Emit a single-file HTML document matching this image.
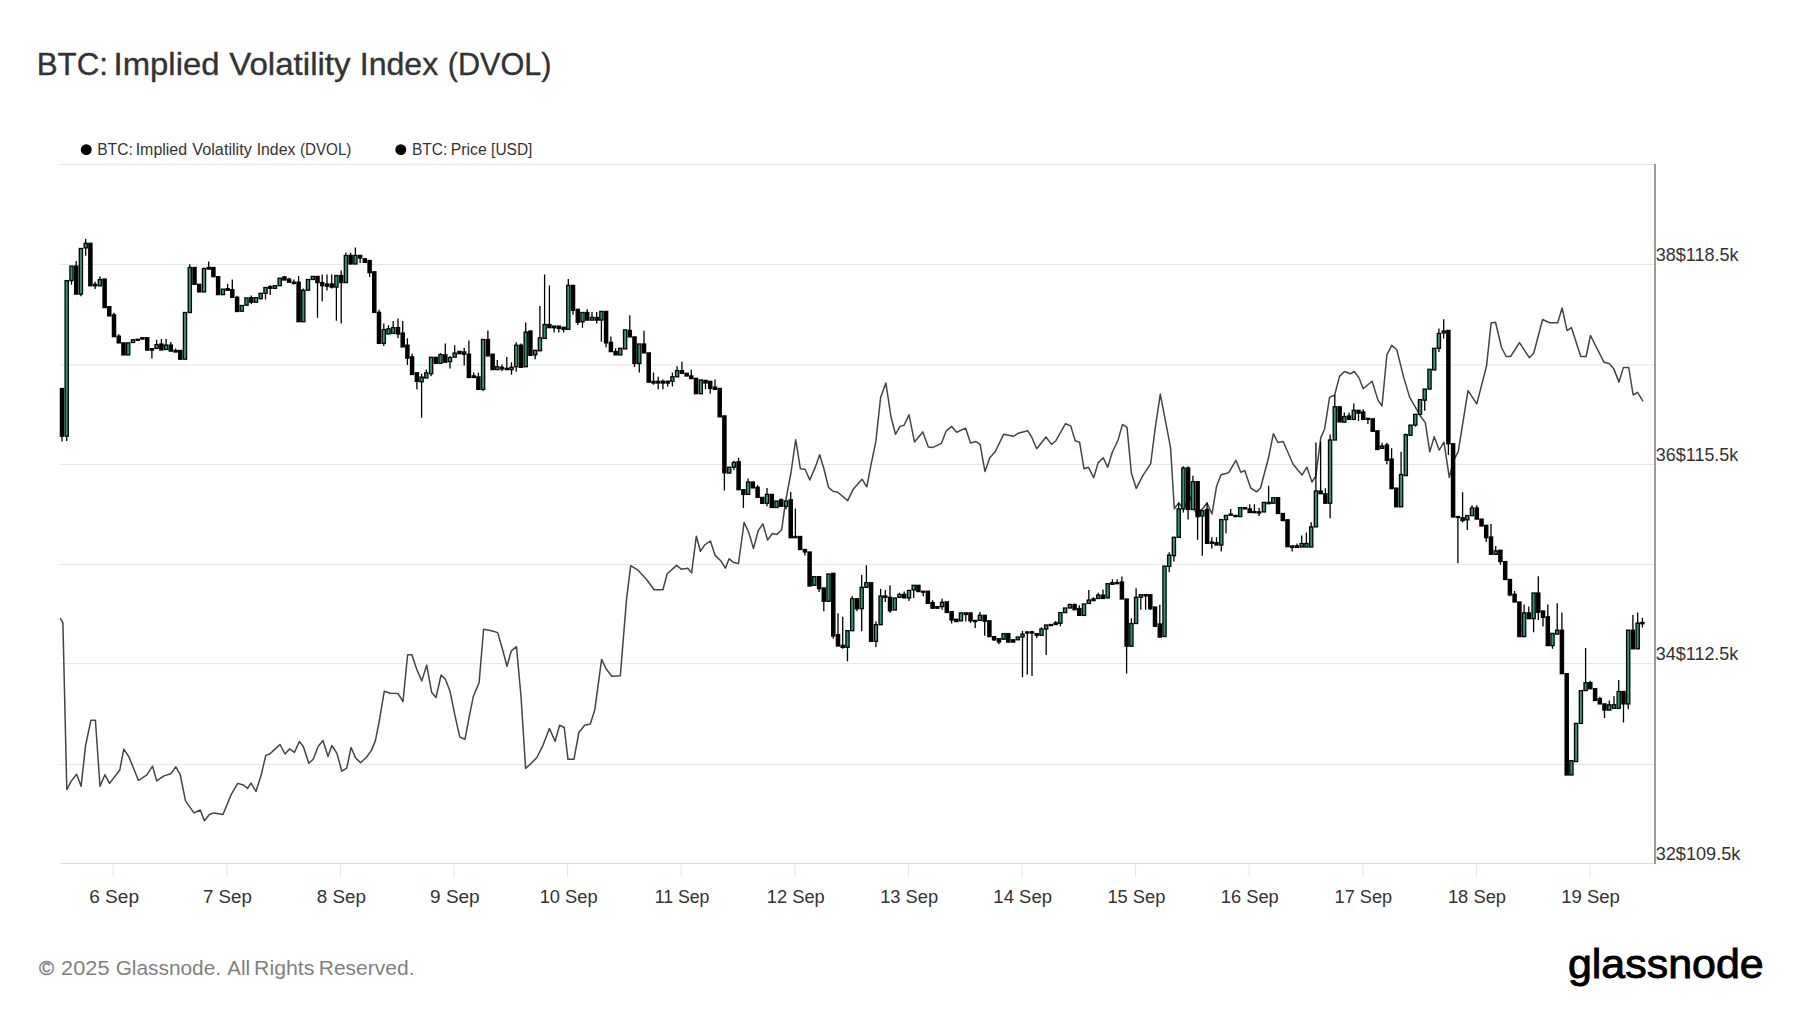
<!DOCTYPE html>
<html><head><meta charset="utf-8"><title>BTC: Implied Volatility Index (DVOL)</title>
<style>html,body{margin:0;padding:0;background:#fff;width:1800px;height:1013px;overflow:hidden}svg{display:block}</style>
</head><body>
<svg width="1800" height="1013" viewBox="0 0 1800 1013">
<rect width="1800" height="1013" fill="#fff"/>
<g stroke="#e6e6e6" stroke-width="1"><line x1="60" y1="164.5" x2="1655" y2="164.5"/><line x1="60" y1="264.5" x2="1655" y2="264.5"/><line x1="60" y1="365" x2="1655" y2="365"/><line x1="60" y1="464.5" x2="1655" y2="464.5"/><line x1="60" y1="564.5" x2="1655" y2="564.5"/><line x1="60" y1="663.6" x2="1655" y2="663.6"/><line x1="60" y1="764.5" x2="1655" y2="764.5"/></g>
<line x1="60" y1="863.4" x2="1655" y2="863.4" stroke="#dcdcdc" stroke-width="1"/>
<g stroke="#e4e4e4" stroke-width="1"><line x1="113.2" y1="864" x2="113.2" y2="877.5"/><line x1="226.8" y1="864" x2="226.8" y2="877.5"/><line x1="340.4" y1="864" x2="340.4" y2="877.5"/><line x1="454" y1="864" x2="454" y2="877.5"/><line x1="567.6" y1="864" x2="567.6" y2="877.5"/><line x1="681.2" y1="864" x2="681.2" y2="877.5"/><line x1="794.8" y1="864" x2="794.8" y2="877.5"/><line x1="908.4" y1="864" x2="908.4" y2="877.5"/><line x1="1022" y1="864" x2="1022" y2="877.5"/><line x1="1135.6" y1="864" x2="1135.6" y2="877.5"/><line x1="1249.2" y1="864" x2="1249.2" y2="877.5"/><line x1="1362.8" y1="864" x2="1362.8" y2="877.5"/><line x1="1476.4" y1="864" x2="1476.4" y2="877.5"/><line x1="1590" y1="864" x2="1590" y2="877.5"/></g>
<line x1="1655" y1="164" x2="1655" y2="864" stroke="#7a7a7a" stroke-width="1.5"/>
<path d="M60 618.2 L62.9 622.7 L66.8 789.6 L70.9 781.6 L76.6 774.3 L81.1 786.2 L85.6 745.3 L90.9 720.3 L95.4 720.3 L100 786.2 L104.9 774.8 L109.5 783.4 L119.7 770.3 L123.8 749.1 L128.8 756.6 L138.5 780.5 L146.9 774.8 L152.6 766.2 L156.7 780.9 L164 775.9 L170.8 773.7 L175.8 766.9 L180.3 774.8 L185.5 800.9 L193.9 812.9 L200.3 810 L204.4 820.7 L209.4 814.5 L213.9 812.9 L223 814.5 L230.9 795.2 L237.7 783.4 L243.4 785 L247.5 788.4 L251 783 L255.9 791.5 L260.9 776.1 L265.8 755.4 L269.7 754 L274.7 749.4 L280 744.5 L285.1 754 L289.5 748.9 L294.4 752.4 L299.4 741.5 L303.3 746.5 L308.8 763.3 L313.2 759.3 L318.1 746.5 L323 740.6 L328 756.4 L331.9 745.5 L336.9 753.4 L341.8 771.2 L346.7 768.2 L351.1 747.5 L355.6 757.9 L360.6 762.7 L366.5 757.3 L371.4 750.4 L375.4 740.6 L379.3 720.8 L384.3 691.2 L390.2 693.2 L398.1 693.6 L403 701.5 L407.6 654.7 L411.9 654.7 L416.8 669.5 L421.8 680.9 L426.7 665.1 L431.6 692.2 L436 697.5 L441.1 675 L445.5 679.4 L450 691.2 L455.2 716.6 L459.8 737.1 L465 739.3 L468.8 718.9 L473.4 696.2 L479.1 682.6 L483.6 629.2 L491.5 630.8 L497.7 632.6 L502.9 650.8 L507 666.2 L511.3 650.8 L516.5 646.7 L521 696.2 L525.6 768.4 L531.3 763.2 L536.9 757.5 L542.6 746.2 L549.4 728.4 L555.1 741.2 L559.6 725.3 L564.2 727.5 L568 759.3 L573.9 759.3 L578.9 732.5 L584.6 725.3 L590.3 723.9 L594.8 709.8 L601.6 659.4 L606.2 669 L611.9 676.2 L620.3 675.8 L626.6 598.6 L630.7 565.7 L638 570.2 L646.6 579.5 L654.1 589.8 L662.9 589.8 L667.2 573.8 L676.6 565.4 L681.3 569.2 L687.8 568.2 L691.6 572.9 L696.3 536.3 L700.4 551.3 L704.7 544.8 L710.4 541 L715 555.1 L720.7 560.7 L725.4 568.2 L729.1 558.8 L733.8 562.6 L738.5 563.5 L744.1 522.3 L748.8 532.6 L753.5 548.5 L758.2 530.7 L762.9 523.8 L767.6 540.1 L772.3 533.5 L777 534.4 L781.7 529.8 L785.4 502.5 L791 472.5 L795.7 439.7 L800.4 468.8 L805.1 469.2 L809.8 480 L815.4 466.9 L819.7 454.7 L823.9 468.8 L828.6 487.5 L833.2 491.3 L837.8 492.3 L847.7 500.6 L853 489.6 L862 479.2 L866.8 486.8 L870.9 465.4 L875.8 441.9 L880.6 397.6 L885.9 383.1 L891 417 L895.5 434.3 L900 426.4 L904.1 425.3 L909 414.9 L914.5 441.9 L922.8 431.9 L928.3 447.1 L933.1 447.4 L941.4 443.3 L946.3 430.8 L951.8 426.4 L956.6 432.2 L965.6 428.1 L970.5 443 L976 441.6 L980.1 444.4 L985 471.6 L989.8 457.8 L995.3 451.5 L1003.6 434.3 L1013.3 436.3 L1018.1 433.3 L1027.8 430.8 L1031.3 436.3 L1036.7 448.8 L1046 437 L1051.5 444.4 L1055.9 440.7 L1065.5 423.7 L1070.7 425.9 L1075.2 440.7 L1079.6 442.2 L1084 468.8 L1088.5 467.3 L1093.7 477.7 L1098.1 462.9 L1103.3 457.7 L1107.7 467.3 L1112.2 452.5 L1118.1 440 L1122.5 424.4 L1127 427.4 L1131.4 473.3 L1136.3 488.4 L1142.5 476.2 L1150.7 463.6 L1155.1 428.9 L1160.3 394.1 L1168.4 436.3 L1170.6 448.1 L1174.3 508.8 L1178.8 502.9 L1183.2 508.8 L1190 497 L1196 513 L1202.5 509 L1207 503 L1212 514 L1216.5 486.6 L1221 474.7 L1227 473.3 L1229 472.2 L1235.9 460.3 L1240.8 472.2 L1244.7 470.6 L1250.7 488 L1256.6 491.9 L1260.5 488 L1268.4 458.3 L1273.4 433.7 L1277.9 442.5 L1283.2 441.5 L1293.1 464.3 L1302 475.1 L1306.9 467.2 L1311.9 482 L1315.8 476.1 L1320.8 437.6 L1324.7 428.7 L1329.6 397.1 L1334.6 395.2 L1339.5 376.4 L1344.4 371.5 L1350.4 373.8 L1354.3 371.5 L1359.3 378.4 L1363.2 388.8 L1372.1 381.3 L1378 400.1 L1382 406 L1386.9 354.7 L1391.8 345.4 L1396.8 349.7 L1403.7 377.4 L1409.6 397.1 L1417.5 410.9 L1420 415.5 L1425.3 422.6 L1429.8 451.9 L1434.2 436.8 L1439.2 450.1 L1444 442.1 L1449.3 477.6 L1453.8 459.9 L1458.2 451.9 L1468 390.6 L1476.8 403.9 L1486.6 365.7 L1491.1 323.1 L1495.5 322.2 L1501.7 348 L1506.2 356.5 L1510.6 356.5 L1519.5 342.6 L1529.3 357.7 L1533.7 353.3 L1542.6 319.5 L1549.7 322.7 L1557.7 322.7 L1562.1 308 L1567.1 330.6 L1571.4 327.5 L1580.8 356.5 L1586.1 356.5 L1590.5 335.5 L1603.9 362.2 L1609.2 363.6 L1613.6 368.4 L1619 382.1 L1623.4 367.5 L1628.7 367.5 L1633.2 395 L1637.6 392.4 L1643 401.3" fill="none" stroke="#444" stroke-width="1.5" stroke-linejoin="round"/>
<path d="M62 388.5V441.4M66.7 280.6V441M71.5 266.1V284.8M76.2 260.9V294.1M80.9 248.5V296.2M85.7 238.7V255.7M90.4 243.3V285.8M95.1 281.7V288.9M99.9 276.5V285.8M104.6 279V307.6M109.3 306.6V315.9M114 312.8V336.7M118.8 334.2V342.9M123.5 342.9V354.9M128.2 342.9V354.9M133 339.8V342.5M137.7 339.3V340.3M142.4 337.7V339.1M147.2 337.7V350.1M151.9 348.7V358.4M156.6 339.7V348.4M161.4 339.1V350M166.1 339.1V349.5M170.8 341.9V351.1M175.6 348.4V352M180.3 350.5V359.2M185 312.5V359.2M189.8 264.2V312.5M194.5 267.5V284.3M199.2 284.3V291.9M204 267.5V291.9M208.7 261.5V269.1M213.4 267.5V276.7M218.1 276.7V294.6M222.9 289.2V294.6M227.6 283.8V290.3M232.3 279.4V297.3M237.1 295.7V311.5M241.8 305.5V311.2M246.5 297.9V305.2M251.3 295.5V303.9M256 297.7V302.2M260.7 293.3V299.5M265.5 287.5V299.5M270.2 285.3V295.1M274.9 285.7V288.4M279.7 278.2V285.7M284.4 276V280M289.1 277.7V282.2M293.9 279.5V284.4M298.6 276V321.7M303.3 288.4V321.7M308 279.5V290.2M312.8 276.4V279.5M317.5 276.4V317.7M322.2 274.6V301.3M327 274.6V290.6M331.7 274.6V288.4M336.4 275.5V320.8M341.2 270.6V323.5M345.9 252.4V282.6M350.6 252.8V264M355.4 247.6V264M360.1 255.4V263.1M364.8 258.8V262.3M369.6 260.5V277M374.3 271.8V312.4M379 309.8V343.4M383.8 323.6V346M388.5 325.3V334M393.2 321V333.4M398 318.4V338.3M402.7 321V346.9M407.4 338.3V365M412.1 353.8V374.5M416.9 372.8V389.2M421.6 373.7V417.7M426.3 369.4V378M431.1 357.3V376.3M435.8 357.3V363.3M440.5 353V363.3M445.3 343.5V362.2M450 355.9V368.4M454.7 345.2V357.1M459.5 351.4V353.7M464.2 348V365.6M468.9 340.6V377.5M473.7 372.4V377.5M478.4 372.4V389.4M483.1 339.5V391.1M487.9 330.4V355.9M492.6 354.2V369.6M497.3 359.9V369.6M502 364.5V371.3M506.8 357.1V369.6M511.5 362.2V374.7M516.2 342.3V371.8M521 343.5V367.3M525.7 322.5V366.7M530.4 331V355.4M535.2 350.3V359.3M539.9 306V350.8M544.6 274.5V338.4M549.4 285.4V327.7M554.1 326.1V332.6M558.8 326.1V332.6M563.6 327.2V332.6M568.3 278.9V329.3M573 285.4V314.7M577.8 309.3V325M582.5 312.5V327.7M587.2 309.3V320.1M592 312V320.1M596.7 312V323.4M601.4 311.4V341.8M606.1 311.4V347.3M610.9 336.4V351.6M615.6 348.3V354.9M620.3 348.3V354.9M625.1 329.9V348.9M629.8 315.2V336.9M634.5 336.9V367M639.3 344V372.4M644 330.7V352.9M648.7 352.9V382.2M653.5 372.4V384.8M658.2 376.8V389.3M662.9 379.5V389.3M667.7 380.4V386.6M672.4 372.4V386.6M677.1 366.2V376.8M681.9 361.7V373.3M686.6 373.3V376M691.3 369.7V378.6M696 378.3V393.7M700.8 380V393.7M705.5 380.4V389.3M710.2 381.3V393.7M715 379.5V389.3M719.7 388.4V416.8M724.4 415.9V490.5M729.2 467.2V473.1M733.9 460.7V470.1M738.6 457.7V489.7M743.4 489.7V508M748.1 478.4V494.4M752.8 482V487.9M757.6 485V497.4M762.3 497.4V503.3M767 487.9V506.3M771.8 494.4V507.5M776.5 501V507.5M781.2 498.6V506.3M786 501V509.2M790.7 492.1V537.7M795.4 508.6V537.7M800.1 536.5V549.5M804.9 549.5V555.5M809.6 552V586M814.3 576.7V585.3M819.1 576.7V592M823.8 588V611.3M828.5 574V601.3M833.3 573.3V638.7M838 613.3V646M842.7 616.7V648.7M847.5 630.7V661.3M852.2 596V630.7M856.9 598.7V611M861.7 574.7V631.3M866.4 565.3V587.3M871.1 582.7V641.3M875.9 621.3V647.3M880.6 588.7V624.7M885.3 590V602M890 585.3V612.7M894.8 598V610M899.5 592.7V597.3M904.2 591.6V597.9M909 590.4V601M913.7 585.3V597.9M918.4 585.3V591.6M923.2 591.2V596.3M927.9 591.2V603.4M932.6 600.3V608.2M937.4 606.6V608.2M942.1 598.7V609.8M946.8 601.9V612.5M951.6 611.7V623.6M956.3 619.2V621.6M961 612.9V620.8M965.8 612.9V621.6M970.5 612.9V623M975.2 620.4V627.9M979.9 612.1V620.4M984.7 615.3V635.8M989.4 620.8V636.6M994.1 636.6V641M998.9 638.7V644.3M1003.6 633.6V639.2M1008.3 633.6V642.1M1013.1 639.8V642.1M1017.8 637V639.8M1022.5 630.7V677.3M1027.3 631.9V674.4M1032 630.7V676.1M1036.7 633.6V638.1M1041.5 627.3V635.3M1046.2 625V655.1M1050.9 624.5V625.6M1055.7 621.1V624.5M1060.4 612.6V626.2M1065.1 608V612.6M1069.9 603.5V608M1074.6 603.5V609.7M1079.3 605.2V615.4M1084 604V615.4M1088.8 589.9V603.5M1093.5 597.2V600.6M1098.2 592.8V598.5M1103 589.4V598.5M1107.7 583.7V597.9M1112.4 579.2V584.3M1117.2 579.2V583.7M1121.9 576.4V599M1126.6 599V673.4M1131.4 618.3V646.2M1136.1 588.3V623.5M1140.8 594.7V609.8M1145.6 594.7V609.8M1150.3 594.7V610M1155 607V626.3M1159.8 604.7V637.1M1164.5 566.1V636.5M1169.2 552.2V572.3M1173.9 537.3V561.6M1178.7 502.4V537.3M1183.4 466.3V512.5M1188.1 466.3V519.6M1192.9 475.7V509.5M1197.6 481.7V539.7M1202.3 510.7V555.7M1207.1 502.4V543.3M1211.8 537.3V548.6M1216.5 537.3V545M1221.3 519.6V551.6M1226 515.4V533.2M1230.7 508.9V514.8M1235.5 515.4V516.6M1240.2 507.7V516.6M1244.9 507.7V508.9M1249.7 504.2V512.5M1254.4 504.2V512.7M1259.1 508V515.9M1263.9 502.4V511.9M1268.6 485.8V503.7M1273.3 497.7V503.2M1278 497.7V513.5M1282.8 513.5V520.6M1287.5 519.8V546.7M1292.2 545.9V551.4M1297 543.5V547.4M1301.7 535.6V547M1306.4 532.4V547M1311.2 522.2V547M1315.9 442.4V526.9M1320.6 441.6V493.7M1325.4 488.2V503.2M1330.1 434.5V518.2M1334.8 395V440M1339.6 406.8V421.9M1344.3 412.6V422.2M1349 412.6V419.4M1353.8 403.5V419.4M1358.5 410.3V421.1M1363.2 409.2V419.4M1367.9 418.3V424M1372.7 418.8V431.3M1377.4 430.8V449.5M1382.1 442.7V448.3M1386.9 442.7V464.2M1391.6 448.3V488.6M1396.3 488.1V506.8M1401.1 451.8V506.8M1405.8 433.6V475.6M1410.5 425.1V435.3M1415.3 414.3V426.8M1420 399.6V414.4M1424.7 389.1V410.7M1429.5 369.3V389.1M1434.2 348.3V369.9M1438.9 328.6V352M1443.7 319.3V338.5M1448.4 330.4V454.9M1453.1 443.8V517M1457.9 516.5V563.3M1462.6 492.2V522.5M1467.3 515.6V530.1M1472 505.3V515.6M1476.8 505.3V519.1M1481.5 519.1V526M1486.2 525.3V541.9M1491 523.9V554.3M1495.7 546V554.3M1500.4 550.2V564.8M1505.2 561.6V579.5M1509.9 579.5V596.2M1514.6 591.1V602M1519.4 602V636.6M1524.1 604.6V636.6M1528.8 606.5V618.7M1533.6 593V632.2M1538.3 576.3V620M1543 611V626.4M1547.8 604.6V645.6M1552.5 633.4V648.8M1557.2 603.3V634.1M1561.9 612.4V673.7M1566.7 673.7V775M1571.4 760.7V775M1576.1 723.4V761.6M1580.9 690.6V723.4M1585.6 648V690.6M1590.3 680.8V688.8M1595.1 688.8V700.4M1599.8 696.8V703.9M1604.5 703.9V718.1M1609.3 700.4V710.1M1614 695.9V708.3M1618.7 679.9V708.3M1623.5 691.5V722.6M1628.2 630.2V709.2M1632.9 615.1V648.8M1637.7 612.4V648.8M1642.4 617.8V627.5" stroke="#000" stroke-width="1.3" fill="none"/>
<g fill="#000" stroke="#000" stroke-width="1.3"><rect x="60.4" y="388.5" width="3.2" height="47.7"/><rect x="74.6" y="266.1" width="3.2" height="28"/><rect x="88.8" y="243.3" width="3.2" height="42.5"/><rect x="93.5" y="284.4" width="3.2" height="1.4"/><rect x="103" y="279" width="3.2" height="28.6"/><rect x="107.7" y="306.6" width="3.2" height="9.3"/><rect x="112.4" y="314.9" width="3.2" height="21.8"/><rect x="117.2" y="336.2" width="3.2" height="6.7"/><rect x="121.9" y="342.9" width="3.2" height="12"/><rect x="136.1" y="339.3" width="3.2" height="1"/><rect x="140.8" y="337.7" width="3.2" height="1.4"/><rect x="145.6" y="337.7" width="3.2" height="12.4"/><rect x="150.3" y="348.7" width="3.2" height="1.4"/><rect x="159.8" y="344" width="3.2" height="6"/><rect x="169.2" y="345.1" width="3.2" height="6"/><rect x="174" y="350.5" width="3.2" height="1.5"/><rect x="178.7" y="350.5" width="3.2" height="8.7"/><rect x="192.9" y="267.5" width="3.2" height="16.8"/><rect x="197.6" y="284.3" width="3.2" height="7.6"/><rect x="207.1" y="267.5" width="3.2" height="1.6"/><rect x="211.8" y="267.5" width="3.2" height="9.2"/><rect x="216.5" y="276.7" width="3.2" height="17.9"/><rect x="226" y="288.7" width="3.2" height="1.6"/><rect x="230.7" y="289.7" width="3.2" height="7.6"/><rect x="235.5" y="297.3" width="3.2" height="14.2"/><rect x="249.7" y="297.7" width="3.2" height="4.5"/><rect x="268.6" y="286.6" width="3.2" height="1.8"/><rect x="282.8" y="276.9" width="3.2" height="3.1"/><rect x="287.5" y="279.1" width="3.2" height="3.1"/><rect x="292.3" y="282.2" width="3.2" height="1.3"/><rect x="297" y="282.2" width="3.2" height="39.5"/><rect x="315.9" y="276.4" width="3.2" height="6.2"/><rect x="320.6" y="282.6" width="3.2" height="3.1"/><rect x="325.4" y="284" width="3.2" height="2.2"/><rect x="330.1" y="284" width="3.2" height="3.1"/><rect x="339.6" y="275.5" width="3.2" height="7.1"/><rect x="349" y="255.4" width="3.2" height="8.6"/><rect x="358.5" y="255.4" width="3.2" height="2.6"/><rect x="363.2" y="258.8" width="3.2" height="3.5"/><rect x="368" y="260.5" width="3.2" height="12.1"/><rect x="372.7" y="271.8" width="3.2" height="40.6"/><rect x="377.4" y="312.4" width="3.2" height="31"/><rect x="396.4" y="327.6" width="3.2" height="6.4"/><rect x="401.1" y="333.1" width="3.2" height="13.8"/><rect x="405.8" y="345.2" width="3.2" height="12.9"/><rect x="410.5" y="356.9" width="3.2" height="17.6"/><rect x="415.3" y="372.8" width="3.2" height="8.6"/><rect x="434.2" y="357.3" width="3.2" height="6"/><rect x="443.7" y="354.8" width="3.2" height="7.4"/><rect x="457.9" y="351.4" width="3.2" height="2.3"/><rect x="462.6" y="352" width="3.2" height="2.2"/><rect x="467.3" y="354.2" width="3.2" height="23.3"/><rect x="472.1" y="375.8" width="3.2" height="1.7"/><rect x="476.8" y="376.9" width="3.2" height="12.5"/><rect x="486.3" y="339.5" width="3.2" height="16.4"/><rect x="491" y="354.2" width="3.2" height="15.4"/><rect x="500.4" y="367.3" width="3.2" height="1.7"/><rect x="505.2" y="368.4" width="3.2" height="1.2"/><rect x="519.4" y="345.2" width="3.2" height="22.1"/><rect x="528.8" y="331" width="3.2" height="24.4"/><rect x="547.8" y="324.5" width="3.2" height="3.2"/><rect x="552.5" y="326.1" width="3.2" height="1.6"/><rect x="557.2" y="326.1" width="3.2" height="2.2"/><rect x="562" y="327.2" width="3.2" height="2.1"/><rect x="571.4" y="285.4" width="3.2" height="24.9"/><rect x="576.2" y="309.3" width="3.2" height="13"/><rect x="585.6" y="312.5" width="3.2" height="7.6"/><rect x="595.1" y="317.4" width="3.2" height="2.7"/><rect x="604.5" y="311.4" width="3.2" height="31.5"/><rect x="609.3" y="342.4" width="3.2" height="9.2"/><rect x="614" y="351.6" width="3.2" height="3.3"/><rect x="628.2" y="330.4" width="3.2" height="6.5"/><rect x="632.9" y="336.9" width="3.2" height="26.6"/><rect x="642.4" y="344" width="3.2" height="8.9"/><rect x="647.1" y="352.9" width="3.2" height="29.3"/><rect x="651.9" y="381.3" width="3.2" height="1.7"/><rect x="656.6" y="381.3" width="3.2" height="1.7"/><rect x="661.3" y="381.3" width="3.2" height="1.7"/><rect x="666.1" y="381.3" width="3.2" height="1.7"/><rect x="680.3" y="370.6" width="3.2" height="2.7"/><rect x="685" y="373.3" width="3.2" height="2.7"/><rect x="689.7" y="376" width="3.2" height="2.6"/><rect x="694.4" y="378.3" width="3.2" height="15.4"/><rect x="703.9" y="380.4" width="3.2" height="2.6"/><rect x="708.6" y="381.3" width="3.2" height="7.1"/><rect x="713.4" y="387.1" width="3.2" height="2.2"/><rect x="718.1" y="388.4" width="3.2" height="28.4"/><rect x="722.8" y="415.9" width="3.2" height="56.9"/><rect x="737" y="461.8" width="3.2" height="27.9"/><rect x="741.8" y="489.7" width="3.2" height="4.7"/><rect x="751.2" y="482" width="3.2" height="5.9"/><rect x="756" y="487.3" width="3.2" height="10.1"/><rect x="760.7" y="497.4" width="3.2" height="5.9"/><rect x="770.2" y="494.4" width="3.2" height="13.1"/><rect x="779.6" y="499.8" width="3.2" height="6.5"/><rect x="789.1" y="499.8" width="3.2" height="37.9"/><rect x="793.8" y="536.5" width="3.2" height="1.2"/><rect x="798.5" y="536.5" width="3.2" height="13"/><rect x="803.3" y="549.5" width="3.2" height="2.4"/><rect x="808" y="552" width="3.2" height="34"/><rect x="817.5" y="576.7" width="3.2" height="12"/><rect x="822.2" y="588" width="3.2" height="13.3"/><rect x="831.7" y="573.3" width="3.2" height="62.7"/><rect x="836.4" y="634.7" width="3.2" height="11.3"/><rect x="841.1" y="645.3" width="3.2" height="2"/><rect x="855.3" y="598.7" width="3.2" height="10"/><rect x="869.5" y="582.7" width="3.2" height="58.6"/><rect x="883.7" y="596" width="3.2" height="1.3"/><rect x="888.4" y="597.3" width="3.2" height="13.4"/><rect x="902.6" y="594.4" width="3.2" height="3.5"/><rect x="916.8" y="585.3" width="3.2" height="6.3"/><rect x="921.6" y="591.2" width="3.2" height="1"/><rect x="926.3" y="591.2" width="3.2" height="12.2"/><rect x="931" y="602.6" width="3.2" height="5.6"/><rect x="935.8" y="606.6" width="3.2" height="1.6"/><rect x="945.2" y="601.9" width="3.2" height="10.6"/><rect x="950" y="611.7" width="3.2" height="8.3"/><rect x="954.7" y="619.2" width="3.2" height="2.4"/><rect x="964.2" y="612.9" width="3.2" height="1.6"/><rect x="968.9" y="612.9" width="3.2" height="7.9"/><rect x="973.6" y="620.4" width="3.2" height="1.2"/><rect x="983.1" y="615.3" width="3.2" height="5.9"/><rect x="987.8" y="620.8" width="3.2" height="15.8"/><rect x="992.5" y="636.6" width="3.2" height="3.2"/><rect x="997.3" y="638.7" width="3.2" height="3.3"/><rect x="1006.7" y="633.6" width="3.2" height="8.5"/><rect x="1011.5" y="639.8" width="3.2" height="2.3"/><rect x="1025.7" y="631.9" width="3.2" height="1.1"/><rect x="1030.4" y="631.9" width="3.2" height="1.1"/><rect x="1035.1" y="633.6" width="3.2" height="1.7"/><rect x="1049.3" y="624.5" width="3.2" height="1.1"/><rect x="1054.1" y="622.8" width="3.2" height="1.7"/><rect x="1073" y="604.6" width="3.2" height="5.1"/><rect x="1077.7" y="608.6" width="3.2" height="6.8"/><rect x="1091.9" y="598.9" width="3.2" height="1.7"/><rect x="1101.4" y="595.1" width="3.2" height="3.4"/><rect x="1110.8" y="582.6" width="3.2" height="1.7"/><rect x="1115.6" y="582.6" width="3.2" height="1.1"/><rect x="1120.3" y="582" width="3.2" height="17"/><rect x="1125" y="599" width="3.2" height="47.2"/><rect x="1144" y="594.7" width="3.2" height="1.2"/><rect x="1148.7" y="594.7" width="3.2" height="14"/><rect x="1153.4" y="607" width="3.2" height="19.3"/><rect x="1158.2" y="624" width="3.2" height="13.1"/><rect x="1186.5" y="468" width="3.2" height="41.5"/><rect x="1196" y="481.7" width="3.2" height="34.9"/><rect x="1205.5" y="509.5" width="3.2" height="33.8"/><rect x="1210.2" y="542" width="3.2" height="1.3"/><rect x="1214.9" y="542.7" width="3.2" height="2.3"/><rect x="1229.1" y="514.2" width="3.2" height="1"/><rect x="1233.9" y="515.4" width="3.2" height="1.2"/><rect x="1243.3" y="507.7" width="3.2" height="1.2"/><rect x="1248.1" y="508.9" width="3.2" height="3.6"/><rect x="1252.8" y="511.6" width="3.2" height="1.1"/><rect x="1257.5" y="511.9" width="3.2" height="1.1"/><rect x="1267" y="502.4" width="3.2" height="1.3"/><rect x="1276.4" y="497.7" width="3.2" height="15.8"/><rect x="1281.2" y="513.5" width="3.2" height="7.1"/><rect x="1285.9" y="519.8" width="3.2" height="26.9"/><rect x="1290.6" y="545.9" width="3.2" height="1.5"/><rect x="1295.4" y="545.9" width="3.2" height="1.5"/><rect x="1319" y="491" width="3.2" height="2.7"/><rect x="1323.8" y="493.7" width="3.2" height="9.5"/><rect x="1338" y="406.8" width="3.2" height="15.1"/><rect x="1347.4" y="416" width="3.2" height="3.4"/><rect x="1356.9" y="410.3" width="3.2" height="2.9"/><rect x="1361.6" y="412" width="3.2" height="7.4"/><rect x="1366.3" y="418.3" width="3.2" height="1.1"/><rect x="1371.1" y="418.8" width="3.2" height="12.5"/><rect x="1375.8" y="430.8" width="3.2" height="18.7"/><rect x="1385.3" y="445" width="3.2" height="15.3"/><rect x="1390" y="459.1" width="3.2" height="29.5"/><rect x="1394.7" y="488.1" width="3.2" height="18.7"/><rect x="1446.8" y="330.4" width="3.2" height="113.4"/><rect x="1451.5" y="443.8" width="3.2" height="73.2"/><rect x="1456.3" y="516.5" width="3.2" height="1"/><rect x="1461" y="517.7" width="3.2" height="2.8"/><rect x="1475.2" y="508" width="3.2" height="11.1"/><rect x="1479.9" y="519.1" width="3.2" height="6.9"/><rect x="1484.6" y="525.3" width="3.2" height="12.4"/><rect x="1489.4" y="537" width="3.2" height="17.3"/><rect x="1498.8" y="550.2" width="3.2" height="11.4"/><rect x="1503.6" y="561.6" width="3.2" height="17.9"/><rect x="1508.3" y="579.5" width="3.2" height="15.4"/><rect x="1513" y="594.3" width="3.2" height="7.7"/><rect x="1517.8" y="602" width="3.2" height="34.6"/><rect x="1527.2" y="612.9" width="3.2" height="5.8"/><rect x="1536.7" y="593" width="3.2" height="19.3"/><rect x="1541.4" y="611" width="3.2" height="6.4"/><rect x="1546.2" y="616.8" width="3.2" height="28.8"/><rect x="1560.3" y="630.2" width="3.2" height="43.5"/><rect x="1565.1" y="673.7" width="3.2" height="101.3"/><rect x="1588.7" y="682.6" width="3.2" height="6.2"/><rect x="1593.5" y="688.8" width="3.2" height="11.6"/><rect x="1598.2" y="698.6" width="3.2" height="5.3"/><rect x="1602.9" y="703.9" width="3.2" height="6.2"/><rect x="1621.9" y="691.5" width="3.2" height="12.4"/><rect x="1631.3" y="630.2" width="3.2" height="18.6"/><rect x="1640.8" y="622.5" width="3.2" height="1.2"/></g>
<g fill="#2c9a70" stroke="#000" stroke-width="1.3"><rect x="65.1" y="280.6" width="3.2" height="155.6"/><rect x="69.9" y="266.1" width="3.2" height="14.5"/><rect x="79.3" y="248.5" width="3.2" height="45.6"/><rect x="84.1" y="243.3" width="3.2" height="4.6"/><rect x="98.3" y="279.6" width="3.2" height="6.2"/><rect x="126.6" y="342.9" width="3.2" height="12"/><rect x="131.4" y="339.8" width="3.2" height="2.7"/><rect x="155" y="344.6" width="3.2" height="3.8"/><rect x="164.5" y="345.1" width="3.2" height="4.4"/><rect x="183.4" y="312.5" width="3.2" height="46.7"/><rect x="188.2" y="267.5" width="3.2" height="45"/><rect x="202.4" y="268.6" width="3.2" height="23.3"/><rect x="221.3" y="289.2" width="3.2" height="5.4"/><rect x="240.2" y="305.5" width="3.2" height="5.7"/><rect x="244.9" y="297.9" width="3.2" height="7.3"/><rect x="254.4" y="297.7" width="3.2" height="4.5"/><rect x="259.1" y="293.3" width="3.2" height="5.3"/><rect x="263.9" y="287.5" width="3.2" height="5.8"/><rect x="273.3" y="285.7" width="3.2" height="2.7"/><rect x="278.1" y="278.2" width="3.2" height="7.5"/><rect x="301.7" y="290.2" width="3.2" height="31.5"/><rect x="306.4" y="279.5" width="3.2" height="10.7"/><rect x="311.2" y="276.4" width="3.2" height="3.1"/><rect x="334.8" y="275.5" width="3.2" height="11.6"/><rect x="344.3" y="255.5" width="3.2" height="27.1"/><rect x="353.8" y="255.4" width="3.2" height="8.6"/><rect x="382.2" y="329.6" width="3.2" height="13.8"/><rect x="386.9" y="328.8" width="3.2" height="5.2"/><rect x="391.6" y="327.6" width="3.2" height="5.8"/><rect x="420" y="377.1" width="3.2" height="4.7"/><rect x="424.7" y="372.8" width="3.2" height="5.2"/><rect x="429.5" y="357.3" width="3.2" height="16.4"/><rect x="438.9" y="354.7" width="3.2" height="8.6"/><rect x="448.4" y="357.6" width="3.2" height="4"/><rect x="453.1" y="353.1" width="3.2" height="4"/><rect x="481.5" y="339.5" width="3.2" height="49.9"/><rect x="495.7" y="366.7" width="3.2" height="2.9"/><rect x="509.9" y="367.3" width="3.2" height="2.3"/><rect x="514.6" y="345.2" width="3.2" height="21.5"/><rect x="524.1" y="332.1" width="3.2" height="34.6"/><rect x="533.6" y="350.3" width="3.2" height="4.5"/><rect x="538.3" y="337.8" width="3.2" height="13"/><rect x="543" y="324.5" width="3.2" height="13.9"/><rect x="566.7" y="285.4" width="3.2" height="43.9"/><rect x="580.9" y="312.5" width="3.2" height="9.2"/><rect x="590.4" y="317.4" width="3.2" height="2.7"/><rect x="599.8" y="311.4" width="3.2" height="8.7"/><rect x="618.7" y="348.3" width="3.2" height="6.6"/><rect x="623.5" y="329.9" width="3.2" height="19"/><rect x="637.7" y="344" width="3.2" height="19.5"/><rect x="670.8" y="376.8" width="3.2" height="4.5"/><rect x="675.5" y="370.6" width="3.2" height="6.2"/><rect x="699.2" y="380" width="3.2" height="13.7"/><rect x="727.6" y="467.2" width="3.2" height="5.9"/><rect x="732.3" y="462.4" width="3.2" height="4.8"/><rect x="746.5" y="482" width="3.2" height="12.4"/><rect x="765.4" y="494.4" width="3.2" height="8.9"/><rect x="774.9" y="501" width="3.2" height="6.5"/><rect x="784.4" y="501" width="3.2" height="5.3"/><rect x="812.7" y="576.7" width="3.2" height="8.6"/><rect x="826.9" y="574" width="3.2" height="27.3"/><rect x="845.9" y="630.7" width="3.2" height="16.6"/><rect x="850.6" y="598.7" width="3.2" height="32"/><rect x="860.1" y="587.3" width="3.2" height="21.4"/><rect x="864.8" y="582.7" width="3.2" height="4.6"/><rect x="874.3" y="624.7" width="3.2" height="16.6"/><rect x="879" y="596" width="3.2" height="28.7"/><rect x="893.2" y="598" width="3.2" height="12"/><rect x="897.9" y="594.4" width="3.2" height="2.9"/><rect x="907.4" y="590.4" width="3.2" height="7.5"/><rect x="912.1" y="585.3" width="3.2" height="4.7"/><rect x="940.5" y="602.3" width="3.2" height="4.3"/><rect x="959.4" y="612.9" width="3.2" height="7.9"/><rect x="978.3" y="615.3" width="3.2" height="5.1"/><rect x="1002" y="633.6" width="3.2" height="5.6"/><rect x="1016.2" y="637" width="3.2" height="2.8"/><rect x="1020.9" y="634.1" width="3.2" height="2.9"/><rect x="1039.9" y="629" width="3.2" height="6.3"/><rect x="1044.6" y="625" width="3.2" height="4"/><rect x="1058.8" y="612.6" width="3.2" height="10.7"/><rect x="1063.5" y="608" width="3.2" height="4.6"/><rect x="1068.3" y="604.6" width="3.2" height="3.4"/><rect x="1082.4" y="604" width="3.2" height="11.4"/><rect x="1087.2" y="600.1" width="3.2" height="3.4"/><rect x="1096.6" y="595.1" width="3.2" height="3.4"/><rect x="1106.1" y="583.7" width="3.2" height="14.2"/><rect x="1129.8" y="623.5" width="3.2" height="22.7"/><rect x="1134.5" y="597.3" width="3.2" height="26.2"/><rect x="1139.2" y="594.7" width="3.2" height="2.6"/><rect x="1162.9" y="566.1" width="3.2" height="70.4"/><rect x="1167.6" y="555.1" width="3.2" height="11.3"/><rect x="1172.3" y="537.3" width="3.2" height="18.4"/><rect x="1177.1" y="508.9" width="3.2" height="28.4"/><rect x="1181.8" y="468" width="3.2" height="40.9"/><rect x="1191.3" y="481.7" width="3.2" height="27.8"/><rect x="1200.7" y="510.7" width="3.2" height="5.3"/><rect x="1219.7" y="519.6" width="3.2" height="25.4"/><rect x="1224.4" y="515.4" width="3.2" height="4.2"/><rect x="1238.6" y="507.7" width="3.2" height="8.9"/><rect x="1262.3" y="502.4" width="3.2" height="9.5"/><rect x="1271.7" y="497.7" width="3.2" height="5.5"/><rect x="1300.1" y="543.5" width="3.2" height="3.5"/><rect x="1304.8" y="543.5" width="3.2" height="3.5"/><rect x="1309.6" y="526.9" width="3.2" height="20.1"/><rect x="1314.3" y="491" width="3.2" height="35.9"/><rect x="1328.5" y="440" width="3.2" height="63.2"/><rect x="1333.2" y="406.8" width="3.2" height="33.2"/><rect x="1342.7" y="416.6" width="3.2" height="5.6"/><rect x="1352.2" y="410.3" width="3.2" height="9.1"/><rect x="1380.5" y="446.1" width="3.2" height="2.2"/><rect x="1399.5" y="474.5" width="3.2" height="32.3"/><rect x="1404.2" y="434.7" width="3.2" height="40.9"/><rect x="1408.9" y="425.1" width="3.2" height="10.2"/><rect x="1413.7" y="414.3" width="3.2" height="10.8"/><rect x="1418.4" y="399.6" width="3.2" height="14.8"/><rect x="1423.1" y="389.1" width="3.2" height="11.1"/><rect x="1427.9" y="369.3" width="3.2" height="19.8"/><rect x="1432.6" y="348.3" width="3.2" height="21.6"/><rect x="1437.3" y="333.5" width="3.2" height="14.8"/><rect x="1442.1" y="331" width="3.2" height="1.9"/><rect x="1465.7" y="515.6" width="3.2" height="4.2"/><rect x="1470.4" y="508" width="3.2" height="7.6"/><rect x="1494.1" y="550.9" width="3.2" height="3.4"/><rect x="1522.5" y="612.9" width="3.2" height="23.7"/><rect x="1532" y="593" width="3.2" height="25.7"/><rect x="1550.9" y="633.4" width="3.2" height="12.2"/><rect x="1555.6" y="630.2" width="3.2" height="3.9"/><rect x="1569.8" y="760.7" width="3.2" height="14.3"/><rect x="1574.5" y="723.4" width="3.2" height="38.2"/><rect x="1579.3" y="690.6" width="3.2" height="32.8"/><rect x="1584" y="682.6" width="3.2" height="8"/><rect x="1607.7" y="704.8" width="3.2" height="5.3"/><rect x="1612.4" y="704.8" width="3.2" height="3.5"/><rect x="1617.1" y="691.5" width="3.2" height="16.8"/><rect x="1626.6" y="630.2" width="3.2" height="73.7"/><rect x="1636.1" y="623.1" width="3.2" height="25.7"/></g>
<circle cx="86.25" cy="149.6" r="5.45" fill="#000"/>
<circle cx="400.8" cy="149.6" r="5.45" fill="#000"/>
<g font-family="'Liberation Sans', sans-serif"><text x="36.70" y="74.6" font-size="31.3" fill="#333" textLength="71.30" lengthAdjust="spacingAndGlyphs" stroke="#333" stroke-width="0.35">BTC:</text><text x="113.55" y="74.6" font-size="31.3" fill="#333" textLength="105.94" lengthAdjust="spacingAndGlyphs" stroke="#333" stroke-width="0.35">Implied</text><text x="229.20" y="74.6" font-size="31.3" fill="#333" textLength="121.40" lengthAdjust="spacingAndGlyphs" stroke="#333" stroke-width="0.35">Volatility</text><text x="359.72" y="74.6" font-size="31.3" fill="#333" textLength="78.56" lengthAdjust="spacingAndGlyphs" stroke="#333" stroke-width="0.35">Index</text><text x="447.74" y="74.6" font-size="31.3" fill="#333" textLength="103.79" lengthAdjust="spacingAndGlyphs" stroke="#333" stroke-width="0.35">(DVOL)</text><text x="97.21" y="154.8" font-size="15.8" fill="#333" textLength="35.55" lengthAdjust="spacingAndGlyphs">BTC:</text><text x="135.69" y="154.8" font-size="15.8" fill="#333" textLength="51.35" lengthAdjust="spacingAndGlyphs">Implied</text><text x="192.30" y="154.8" font-size="15.8" fill="#333" textLength="59.55" lengthAdjust="spacingAndGlyphs">Volatility</text><text x="256.70" y="154.8" font-size="15.8" fill="#333" textLength="38.66" lengthAdjust="spacingAndGlyphs">Index</text><text x="299.94" y="154.8" font-size="15.8" fill="#333" textLength="51.45" lengthAdjust="spacingAndGlyphs">(DVOL)</text><text x="411.92" y="154.8" font-size="15.8" fill="#333" textLength="35.44" lengthAdjust="spacingAndGlyphs">BTC:</text><text x="450.70" y="154.8" font-size="15.8" fill="#333" textLength="36.11" lengthAdjust="spacingAndGlyphs">Price</text><text x="491.12" y="154.8" font-size="15.8" fill="#333" textLength="41.25" lengthAdjust="spacingAndGlyphs">[USD]</text><text x="1655.69" y="261.1" font-size="17.8" fill="#333" textLength="82.86" lengthAdjust="spacingAndGlyphs">38$118.5k</text><text x="1655.79" y="460.9" font-size="17.8" fill="#333" textLength="82.55" lengthAdjust="spacingAndGlyphs">36$115.5k</text><text x="1655.79" y="660.3" font-size="17.8" fill="#333" textLength="82.55" lengthAdjust="spacingAndGlyphs">34$112.5k</text><text x="1655.68" y="859.7" font-size="17.8" fill="#333" textLength="84.68" lengthAdjust="spacingAndGlyphs">32$109.5k</text><text x="89.16" y="902.9" font-size="18.3" fill="#333" textLength="49.86" lengthAdjust="spacingAndGlyphs">6 Sep</text><text x="202.98" y="902.9" font-size="18.3" fill="#333" textLength="48.92" lengthAdjust="spacingAndGlyphs">7 Sep</text><text x="316.77" y="902.9" font-size="18.3" fill="#333" textLength="49.13" lengthAdjust="spacingAndGlyphs">8 Sep</text><text x="430.06" y="902.9" font-size="18.3" fill="#333" textLength="49.65" lengthAdjust="spacingAndGlyphs">9 Sep</text><text x="539.70" y="902.9" font-size="18.3" fill="#333" textLength="57.95" lengthAdjust="spacingAndGlyphs">10 Sep</text><text x="654.63" y="902.9" font-size="18.3" fill="#333" textLength="54.84" lengthAdjust="spacingAndGlyphs">11 Sep</text><text x="766.80" y="902.9" font-size="18.3" fill="#333" textLength="57.95" lengthAdjust="spacingAndGlyphs">12 Sep</text><text x="880.20" y="902.9" font-size="18.3" fill="#333" textLength="57.95" lengthAdjust="spacingAndGlyphs">13 Sep</text><text x="993.39" y="902.9" font-size="18.3" fill="#333" textLength="58.68" lengthAdjust="spacingAndGlyphs">14 Sep</text><text x="1107.40" y="902.9" font-size="18.3" fill="#333" textLength="57.95" lengthAdjust="spacingAndGlyphs">15 Sep</text><text x="1220.80" y="902.9" font-size="18.3" fill="#333" textLength="57.95" lengthAdjust="spacingAndGlyphs">16 Sep</text><text x="1334.61" y="902.9" font-size="18.3" fill="#333" textLength="57.44" lengthAdjust="spacingAndGlyphs">17 Sep</text><text x="1447.90" y="902.9" font-size="18.3" fill="#333" textLength="58.16" lengthAdjust="spacingAndGlyphs">18 Sep</text><text x="1561.19" y="902.9" font-size="18.3" fill="#333" textLength="58.68" lengthAdjust="spacingAndGlyphs">19 Sep</text><text x="38.90" y="974.9" font-size="20.5" fill="#7f7f7f" textLength="15.11" lengthAdjust="spacingAndGlyphs" stroke="#7f7f7f" stroke-width="0.45">©</text><text x="61.14" y="974.9" font-size="20.5" fill="#7f7f7f" textLength="48.41" lengthAdjust="spacingAndGlyphs">2025</text><text x="115.68" y="974.9" font-size="20.5" fill="#7f7f7f" textLength="105.35" lengthAdjust="spacingAndGlyphs">Glassnode.</text><text x="227.30" y="974.9" font-size="20.5" fill="#7f7f7f" textLength="22.80" lengthAdjust="spacingAndGlyphs">All</text><text x="254.02" y="974.9" font-size="20.5" fill="#7f7f7f" textLength="60.43" lengthAdjust="spacingAndGlyphs">Rights</text><text x="318.75" y="974.9" font-size="20.5" fill="#7f7f7f" textLength="95.72" lengthAdjust="spacingAndGlyphs">Reserved.</text><text x="1567.90" y="978.3" font-size="41" fill="#000" textLength="195.82" lengthAdjust="spacingAndGlyphs" stroke="#000" stroke-width="0.9">glassnode</text></g>
</svg>
</body></html>
